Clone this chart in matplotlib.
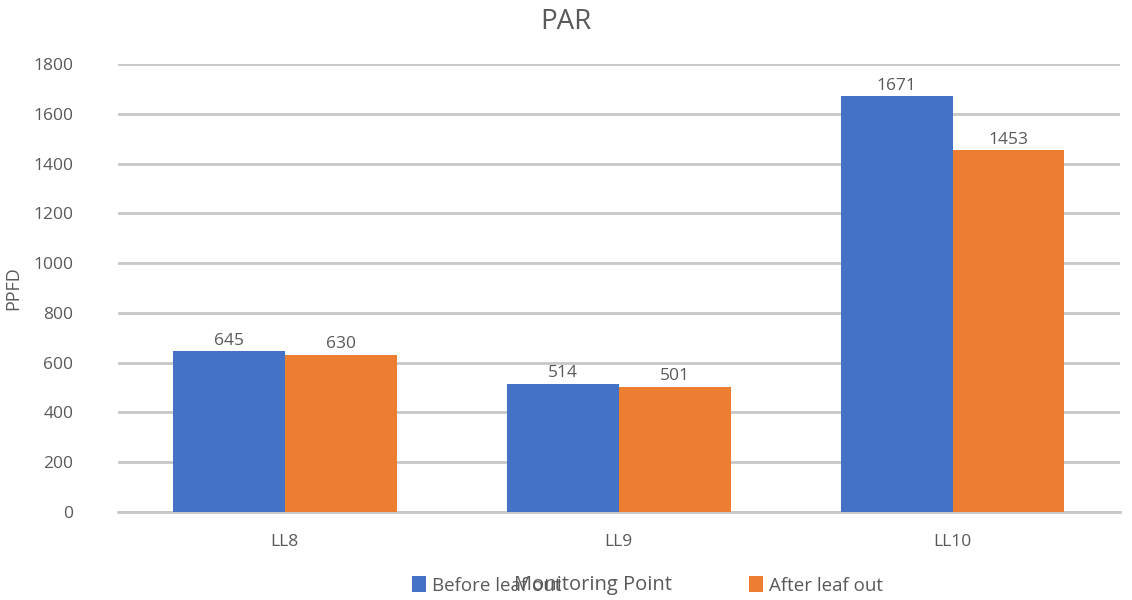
import matplotlib
matplotlib.use("Agg")
import matplotlib.pyplot as plt
import numpy as np
from matplotlib.patches import Patch

plt.rcParams['font.family'] = ['Open Sans', 'DejaVu Sans']

# Data
categories = ['LL8', 'LL9', 'LL10']
before_leaf_out = [645, 514, 1671]
after_leaf_out = [630, 501, 1453]
series_names = ['Before leaf out', 'After leaf out']
colors = ['#4472C4', '#ED7D31']
text_color = '#595959'

fig = plt.figure(figsize=(11.32, 6.0), dpi=100)
ax = fig.add_axes([0.104, 0.147, 0.885, 0.746])

x = np.arange(len(categories))
w = 0.335
b1 = ax.bar(x - w / 2, before_leaf_out, w, color=colors[0], zorder=3)
b2 = ax.bar(x + w / 2, after_leaf_out, w, color=colors[1], zorder=3)

for bars in (b1, b2):
    for rect in bars:
        h = rect.get_height()
        ax.annotate(f'{h:.0f}', (rect.get_x() + rect.get_width() / 2, h),
                    xytext=(0, 2), textcoords='offset points',
                    ha='center', va='bottom', fontsize=12.5, color=text_color)

ax.set_xlim(-0.5, 2.5)
ax.set_ylim(0, 1800)
ax.set_yticks(np.arange(0, 1801, 200))
ax.set_xticks(x)
ax.set_xticklabels(categories)
ax.tick_params(axis='both', length=0, labelsize=12.5, colors=text_color)
ax.tick_params(axis='y', pad=32)
ax.tick_params(axis='x', pad=16)
ax.yaxis.grid(True, color='#c8c8c8', linewidth=2, zorder=0)
for side in ['top', 'right', 'left']:
    ax.spines[side].set_visible(False)
ax.spines['bottom'].set_color('#c8c8c8')
ax.spines['bottom'].set_linewidth(2)

ax.set_ylabel('PPFD', fontsize=13, color=text_color, labelpad=8)
fig.text(0.524, 0.025, 'Monitoring Point', ha='center', va='center',
         fontsize=14.5, color=text_color)
fig.text(0.5, 0.963, 'PAR', ha='center', va='center', fontsize=20, color=text_color)

handles = [Patch(facecolor=c, label=n) for c, n in zip(colors, series_names)]
fig.legend(handles=handles, loc='center', bbox_to_anchor=(0.572, 0.024),
           ncol=2, frameon=False, fontsize=13.5, labelcolor=text_color,
           handlelength=0.75, handleheight=0.9, handletextpad=0.3, columnspacing=10.0)

fig.savefig('out.png', dpi=100)
